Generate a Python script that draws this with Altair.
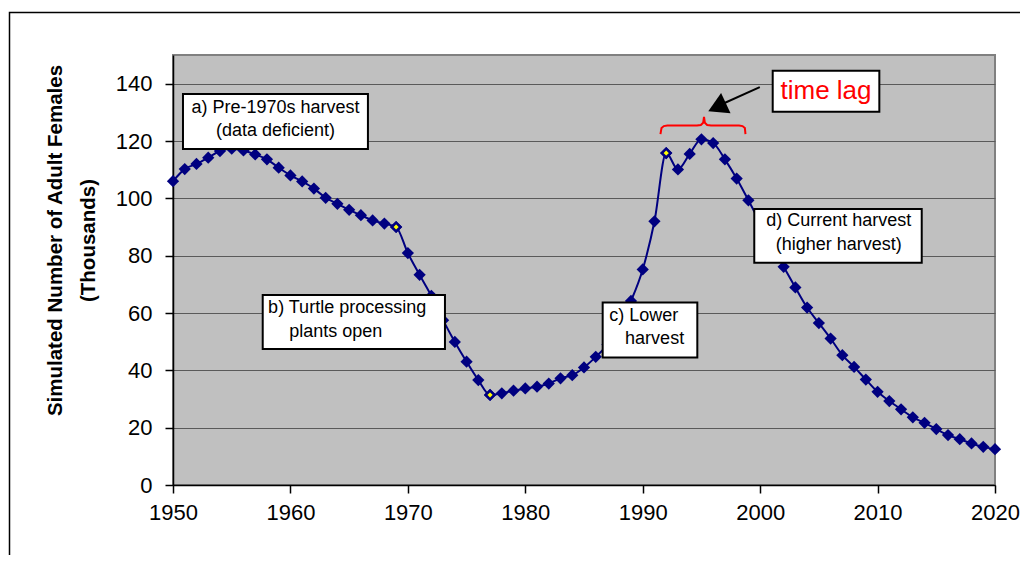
import altair as alt
import pandas as pd

# ---- data ----
years = list(range(1950, 2021))
females = [106, 110.2, 112, 114.2, 116.5, 117.3, 116.7, 115.3, 113.6, 110.7,
           108, 105.9, 103.4, 100.2, 98.1, 96, 94.1, 92.3, 91.2, 90,
           80.9, 73.3, 66, 57.5, 49.9, 43, 36.6, 31.4, 32, 32.9,
           33.7, 34.3, 35.4, 37.2, 38.3, 41, 44.7, 49, 55.5, 64.2,
           75.2, 92, 115.8, 110.1, 115.5, 120.6, 119.3, 113.6, 106.9, 99.3,
           91.5, 83.5, 76.1, 68.9, 61.9, 56.5, 51.1, 45.3, 41.2, 36.8,
           32.5, 29.3, 26.4, 23.6, 21.7, 19.5, 17.4, 16, 14.5, 13.3, 12.5]
highlight_years = [1969, 1977, 1992]

x_ticks = [1950, 1960, 1970, 1980, 1990, 2000, 2010, 2020]
y_ticks = [0, 20, 40, 60, 80, 100, 120, 140]

# annotation boxes (data units)
box_x1 = [1950.85, 1957.64, 1986.59, 1999.5, 2001.07]
box_x2 = [1966.6, 1973.16, 1994.65, 2013.76, 2010.15]
box_y1 = [136.4, 66.3, 63.7, 96.3, 144.5]
box_y2 = [117.2, 47.4, 44.5, 77.5, 130.2]

# centered annotation text
ctext = ["a) Pre-1970s harvest", "(data deficient)", "d) Current harvest", "(higher harvest)"]
ctext_x = [1958.73, 1958.73, 2006.7, 2006.7]
ctext_y = [131.6, 123.5, 92.1, 83.7]
# left-aligned annotation text
ltext = ["b) Turtle processing", "plants open", "c) Lower", "harvest"]
ltext_x = [1958.1, 1959.9, 1987.15, 1988.5]
ltext_y = [61.8, 53.5, 59.1, 50.9]

# brace and arrow
brace_x = [1991.51, 1991.6, 1991.8, 1992.1, 1994.62, 1994.95, 1995.15, 1995.22,
           1995.29, 1995.49, 1995.82, 1998.2, 1998.5, 1998.7, 1998.75]
brace_y = [122.4, 124.5, 125.2, 125.4, 125.4, 125.6, 126.4, 128.4,
           126.4, 125.6, 125.4, 125.4, 125.2, 124.5, 122.4]
arrow_x = [1999.97, 1996.4]
arrow_y = [138.8, 132.2]
head_x = [1996.33]
head_y = [131.8]

FONT = "Liberation Sans"
NAVY = "#000080"

df = pd.DataFrame({"x": years, "y": females})
df_hi = df[df["x"].isin(highlight_years)]
df_box = pd.DataFrame({"x": box_x1, "x2": box_x2, "y": box_y1, "y2": box_y2})
df_ct = pd.DataFrame({"x": ctext_x, "y": ctext_y, "t": ctext})
df_lt = pd.DataFrame({"x": ltext_x, "y": ltext_y, "t": ltext})
df_brace = pd.DataFrame({"x": brace_x, "y": brace_y, "o": list(range(len(brace_x)))})
df_arrow = pd.DataFrame({"x": arrow_x, "y": arrow_y, "o": [0, 1]})
df_head = pd.DataFrame({"x": head_x, "y": head_y})
df_lag = pd.DataFrame({"x": [(box_x1[4] + box_x2[4]) / 2], "y": [(box_y1[4] + box_y2[4]) / 2], "t": ["time lag"]})

xscale = alt.Scale(domain=[1950, 2020], nice=False, zero=False)
yscale = alt.Scale(domain=[0, 150], nice=False)

x_axis = alt.Axis(values=x_ticks, format="d", title=None, grid=False,
                  domainColor="black", domainWidth=1.5, tickColor="black",
                  tickSize=8, tickWidth=1.5, labelFontSize=22, labelPadding=9,
                  labelColor="black", labelFont=FONT, labelFlush=False)
y_axis = alt.Axis(values=y_ticks, title=["Simulated Number of Adult Females", "(Thousands)"],
                  grid=True, gridColor="#5a5a5a", gridWidth=1,
                  domainColor="black", domainWidth=1.5, tickColor="black",
                  tickSize=8, tickWidth=1.5, labelFontSize=22, labelPadding=13,
                  labelColor="black", labelFont=FONT,
                  titleFont=FONT, titleFontSize=20.5, titleFontWeight="bold",
                  titleColor="black", titleAngle=270, titleBaseline="middle",
                  titleAlign="center", titleX=-118, titleY=185, titleLineHeight=33)


def X():
    return alt.X("x:Q", scale=xscale, axis=x_axis)


def Y():
    return alt.Y("y:Q", scale=yscale, axis=y_axis)


line = alt.Chart(df).mark_line(color=NAVY, strokeWidth=2, interpolate="monotone").encode(
    x=X(), y=Y())
pts = alt.Chart(df).mark_point(shape="diamond", filled=True, color=NAVY, size=150, opacity=1).encode(
    x=X(), y=Y())
hi = alt.Chart(df_hi).mark_point(shape="diamond", filled=True, fill="#FFFF00", stroke=NAVY,
                                 strokeWidth=2.5, size=75, opacity=1).encode(x=X(), y=Y())
boxes = alt.Chart(df_box).mark_rect(fill="white", stroke="black", strokeWidth=2).encode(
    x=X(), x2="x2:Q", y=Y(), y2="y2:Q")
ct = alt.Chart(df_ct).mark_text(font=FONT, fontSize=18, align="center", baseline="middle",
                                color="black").encode(x=X(), y=Y(), text="t:N")
lt = alt.Chart(df_lt).mark_text(font=FONT, fontSize=18, align="left", baseline="middle",
                                color="black").encode(x=X(), y=Y(), text="t:N")
brace = alt.Chart(df_brace).mark_line(color="#FF0000", strokeWidth=2, interpolate="linear").encode(
    x=X(), y=Y(), order="o:Q")
arrow = alt.Chart(df_arrow).mark_line(color="black", strokeWidth=2).encode(
    x=X(), y=Y(), order="o:Q")
head = alt.Chart(df_head).mark_point(shape="triangle-up", filled=True, color="black", size=500,
                                     angle=245, opacity=1).encode(x=X(), y=Y())
lag = alt.Chart(df_lag).mark_text(font=FONT, fontSize=26, color="#FF0000", align="center",
                                  baseline="middle").encode(x=X(), y=Y(), text="t:N")
border = alt.Chart(pd.DataFrame({"a": [0]})).mark_rect(
    fill="transparent", stroke="black", strokeWidth=1.5).encode(
    x=alt.value(-163.5), y=alt.value(-42.5), x2=alt.value(900), y2=alt.value(560))

chart = alt.layer(line, pts, hi, boxes, ct, lt, brace, arrow, head, lag, border).properties(
    width=822, height=430, autosize="none",
    padding={"left": 165, "top": 47, "right": 25, "bottom": 70},
    background="white",
).configure_view(fill="#C0C0C0", stroke="#808080", strokeWidth=2)

chart.save("out.html", embed_options={"renderer": "svg", "actions": False})
